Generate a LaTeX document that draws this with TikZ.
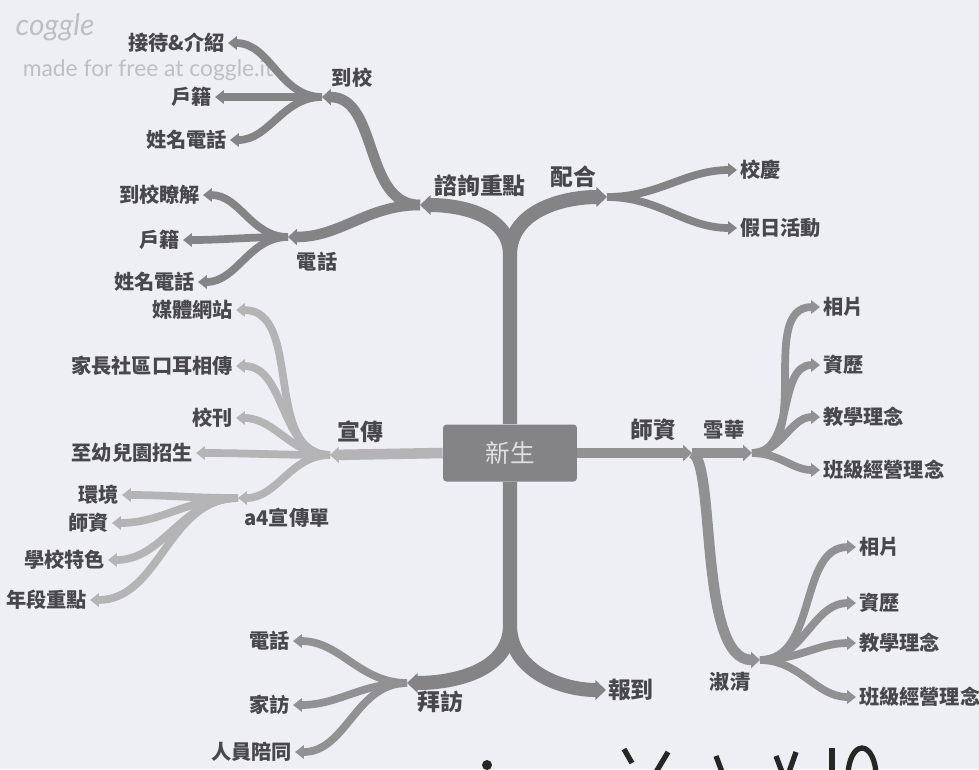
\documentclass[tikz,border=0pt]{standalone}
\usepackage{fontspec}
\setmainfont{Noto Sans CJK TC}
\newfontfamily\wmfont{Lato}
\usetikzlibrary{arrows.meta}

\definecolor{paper}{RGB}{238,239,244}
\definecolor{ink}{RGB}{72,72,76}
\definecolor{trunkgray}{RGB}{132,132,135}
\definecolor{boughgray}{RGB}{145,145,148}
\definecolor{palegray}{RGB}{180,180,183}
\definecolor{markgray}{RGB}{190,190,195}

\tikzset{
  trunk/.style={draw=trunkgray, line width=8pt, -{Triangle[length=6pt,width=11pt]}},
  bough/.style={line width=6pt, -{Triangle[length=5pt,width=9pt]}},
  twig/.style={line width=4.4pt, -{Triangle[length=5pt,width=7.5pt]}},
  leaf/.style={text=ink, font=\fontsize{11.5}{13}\selectfont\bfseries, inner sep=1.5pt},
  topic/.style={text=ink, font=\fontsize{13}{15}\selectfont\bfseries, inner sep=1pt},
  hubbox/.style={fill=trunkgray, text=white!75!trunkgray, minimum width=2.68cm,
    minimum height=1.14cm, rounded corners=2pt, font=\fontsize{14}{16}\selectfont},
  wm/.style={text=markgray, font=\wmfont\fontsize{13}{15}\selectfont, inner sep=0pt}
}

\begin{document}
\begin{tikzpicture}[x=0.02cm, y=0.02cm]
  \useasboundingbox (0,0) rectangle (979,-769);
  \fill[paper] (0,0) rectangle (979,-769);

  \node[wm, font=\wmfont\itshape\fontsize{17}{17}\selectfont] (cg) at (55,-27) {coggle};
  \node[wm] (made) at (148,-70) {made for free at coggle.it};

  \node[hubbox] (new) at (510,-453) {新生};

  \coordinate (up) at (510,-255);
  \coordinate (down) at (510,-625);
  \coordinate (consult) at (420,-205);
  \coordinate (coop) at (607,-197);
  \coordinate (school) at (322,-97);
  \coordinate (phone) at (288,-237);
  \coordinate (promo) at (330,-455);
  \coordinate (flyer) at (238,-498);
  \coordinate (staff) at (692,-453);
  \coordinate (tA) at (752,-453);
  \coordinate (tB) at (760,-660);
  \coordinate (visit) at (407,-683);

  % inner labels
  \node[topic] (consultL) at (480,-186) {諮詢重點};
  \node[topic] (coopL) at (573,-177) {配合};
  \node[leaf] (schoolL) at (352,-78) {到校};
  \node[leaf] (phoneL) at (317,-262) {電話};
  \node[topic] (promoL) at (360,-432) {宣傳};
  \node[leaf] (flyerL) at (287,-518) {a4宣傳單};
  \node[topic] (staffL) at (653,-430) {師資};
  \node[leaf] (tAL) at (724,-430) {雪華};
  \node[leaf] (tBL) at (730,-682) {淑清};
  \node[topic] (visitL) at (440,-702) {拜訪};
  \node[topic, anchor=west] (report) at (606,-690) {報到};

  % leaves
  \node[leaf, anchor=east] (s1) at (228,-43) {接待\&介紹};
  \node[leaf, anchor=east] (s2) at (215,-97) {戶籍};
  \node[leaf, anchor=east] (s3) at (230,-140) {姓名電話};
  \node[leaf, anchor=east] (p1) at (203,-195) {到校瞭解};
  \node[leaf, anchor=east] (p2) at (183,-240) {戶籍};
  \node[leaf, anchor=east] (p3) at (198,-282) {姓名電話};
  \node[leaf, anchor=west] (c1) at (737,-170) {校慶};
  \node[leaf, anchor=west] (c2) at (737,-228) {假日活動};
  \node[leaf, anchor=east] (m1) at (236,-310) {媒體網站};
  \node[leaf, anchor=east] (m2) at (236,-366) {家長社區口耳相傳};
  \node[leaf, anchor=east] (m3) at (236,-418) {校刊};
  \node[leaf, anchor=east] (m4) at (196,-453) {至幼兒園招生};
  \node[leaf, anchor=east] (f1) at (122,-495) {環境};
  \node[leaf, anchor=east] (f2) at (112,-523) {師資};
  \node[leaf, anchor=east] (f3) at (108,-560) {學校特色};
  \node[leaf, anchor=east] (f4) at (90,-600) {年段重點};
  \node[leaf, anchor=west] (a1) at (820,-307) {相片};
  \node[leaf, anchor=west] (a2) at (820,-365) {資歷};
  \node[leaf, anchor=west] (a3) at (820,-417) {教學理念};
  \node[leaf, anchor=west] (a4) at (820,-470) {班級經營理念};
  \node[leaf, anchor=west] (b1) at (856,-547) {相片};
  \node[leaf, anchor=west] (b2) at (856,-603) {資歷};
  \node[leaf, anchor=west] (b3) at (856,-643) {教學理念};
  \node[leaf, anchor=west] (b4) at (856,-697) {班級經營理念};
  \node[leaf, anchor=east] (v1) at (293,-641) {電話};
  \node[leaf, anchor=east] (v2) at (293,-705) {家訪};
  \node[leaf, anchor=east] (v3) at (295,-752) {人員陪同};

  % trunk
  \draw[trunk] (new.north) -- (up) to[out=90,in=0] (consult);
  \draw[trunk] (up) to[out=90,in=180] (coop);
  \draw[trunk] (new.south) -- (down) to[out=-90,in=0] (visit);
  \draw[trunk] (down) to[out=-90,in=180] (report.west);
  \draw[bough, draw=palegray] (new.west) -- (promo);
  \draw[bough, draw=boughgray] (new.east) -- (staff);

  \draw[bough, draw=trunkgray] (consult) to[out=180,in=0] (school);
  \draw[bough, draw=trunkgray] (consult) to[out=180,in=0] (phone);
  \foreach \n in {s1,s2,s3}
    \draw[twig, draw=trunkgray] (school) to[out=180,in=0] (\n.east);
  \foreach \n in {p1,p2,p3}
    \draw[twig, draw=trunkgray] (phone) to[out=180,in=0] (\n.east);
  \foreach \n in {c1,c2}
    \draw[twig, draw=trunkgray] (coop) to[out=0,in=180] (\n.west);

  \foreach \n in {m1,m2,m3,m4}
    \draw[twig, draw=palegray] (promo) to[out=180,in=0] (\n.east);
  \draw[twig, draw=palegray] (promo) to[out=180,in=0] (flyer);
  \foreach \n in {f1,f2,f3,f4}
    \draw[twig, draw=palegray] (flyer) to[out=180,in=0] (\n.east);

  \draw[bough, draw=boughgray] (staff) -- (tA);
  \draw[bough, draw=boughgray] (staff) .. controls +(24,-8) and +(-62,0) .. (tB);
  \foreach \n in {a1,a2,a3,a4}
    \draw[twig, draw=boughgray] (tA) to[out=0,in=180] (\n.west);
  \foreach \n in {b1,b2,b3,b4}
    \draw[twig, draw=boughgray] (tB) to[out=0,in=180] (\n.west);

  \foreach \n in {v1,v2,v3}
    \draw[twig, draw=boughgray] (visit) to[out=180,in=0] (\n.east);

  % edge of the page below
  \begin{scope}
    \clip (0,-735) rectangle (979,-769);
    \fill[black!85] (487,-765) circle (5);
    \draw[black!85, line width=3pt] (624,-749) -- (632,-763);
    \draw[black!85, line width=3pt] (668,-752) -- (656,-772);
    \draw[black!85, line width=3pt] (716,-756) -- (722,-772);
    \draw[black!85, line width=3pt] (776,-756) -- (782,-772);
    \draw[black!85, line width=3pt] (796,-752) -- (789,-772);
    \draw[black!85, line width=3pt] (832,-748) -- (832,-772);
    \draw[black!85, line width=3pt] (862,-776) ellipse (14 and 28);
  \end{scope}
\end{tikzpicture}
\end{document}
